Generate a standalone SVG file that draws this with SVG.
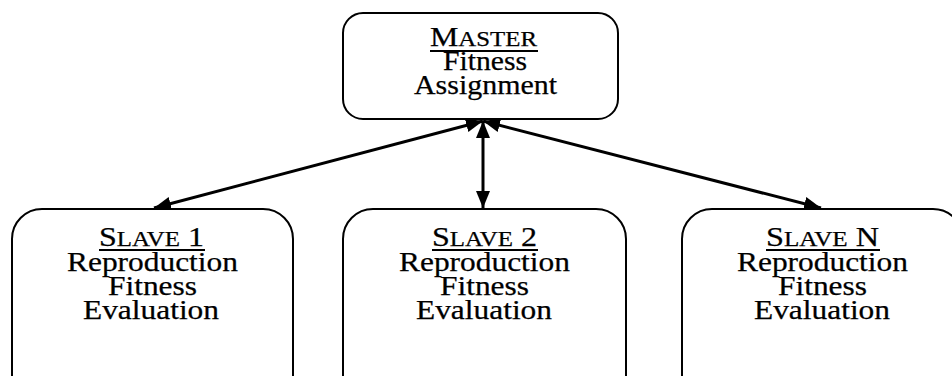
<svg xmlns="http://www.w3.org/2000/svg" width="952" height="376" viewBox="0 0 952 376">
<style>
.box{fill:#fff;stroke:#000;stroke-width:2}
.t{font-family:"Liberation Serif","Times New Roman",serif;font-size:27px;fill:#000;stroke:#000;stroke-width:0.25}
.sc{font-size:21px}
.ul{stroke:#000;stroke-width:2}
.conn{stroke:#000;stroke-width:3;fill:none}
</style>
<defs>
<marker id="ah" markerUnits="userSpaceOnUse" markerWidth="18" markerHeight="16" refX="17" refY="7" orient="auto-start-reverse" viewBox="0 0 18 14">
<path d="M0,0 L17,7 L0,14 Z" fill="#000"/>
</marker>
</defs>
<g id="connectors">
<line class="conn" x1="483" y1="121" x2="154" y2="208" marker-start="url(#ah)" marker-end="url(#ah)"/>
<line class="conn" x1="483" y1="121" x2="483" y2="208" marker-start="url(#ah)" marker-end="url(#ah)"/>
<line class="conn" x1="483" y1="121" x2="821" y2="208" marker-start="url(#ah)" marker-end="url(#ah)"/>
</g>
<g id="master">
<rect class="box" x="343" y="13" width="275" height="106" rx="20"/>
<text class="t" x="430" y="46" textLength="107" lengthAdjust="spacingAndGlyphs">M<tspan class="sc">ASTER</tspan></text>
<line class="ul" x1="430" y1="51" x2="538" y2="51"/>
<text class="t" x="443" y="70" textLength="84" lengthAdjust="spacingAndGlyphs">Fitness</text>
<text class="t" x="414" y="94" textLength="143" lengthAdjust="spacingAndGlyphs">Assignment</text>
</g>
<g id="slave1">
<rect class="box" x="12" y="209" width="281" height="200" rx="30"/>
<text class="t" x="99" y="246" textLength="105" lengthAdjust="spacingAndGlyphs">S<tspan class="sc">LAVE</tspan> 1</text>
<line class="ul" x1="99" y1="250" x2="205" y2="250"/>
<text class="t" x="67" y="271" textLength="171" lengthAdjust="spacingAndGlyphs">Reproduction</text>
<text class="t" x="108" y="295" textLength="89" lengthAdjust="spacingAndGlyphs">Fitness</text>
<text class="t" x="83" y="319" textLength="136" lengthAdjust="spacingAndGlyphs">Evaluation</text>
</g>
<g id="slave2">
<rect class="box" x="343" y="209" width="283" height="200" rx="30"/>
<text class="t" x="432" y="246" textLength="105" lengthAdjust="spacingAndGlyphs">S<tspan class="sc">LAVE</tspan> 2</text>
<line class="ul" x1="432" y1="250" x2="538" y2="250"/>
<text class="t" x="399" y="271" textLength="171" lengthAdjust="spacingAndGlyphs">Reproduction</text>
<text class="t" x="440" y="295" textLength="89" lengthAdjust="spacingAndGlyphs">Fitness</text>
<text class="t" x="416" y="319" textLength="136" lengthAdjust="spacingAndGlyphs">Evaluation</text>
</g>
<g id="slaveN">
<rect class="box" x="682" y="209" width="281" height="200" rx="30"/>
<text class="t" x="766" y="246" textLength="113" lengthAdjust="spacingAndGlyphs">S<tspan class="sc">LAVE</tspan> N</text>
<line class="ul" x1="766" y1="250" x2="880" y2="250"/>
<text class="t" x="737" y="271" textLength="171" lengthAdjust="spacingAndGlyphs">Reproduction</text>
<text class="t" x="778" y="295" textLength="89" lengthAdjust="spacingAndGlyphs">Fitness</text>
<text class="t" x="754" y="319" textLength="136" lengthAdjust="spacingAndGlyphs">Evaluation</text>
</g>
</svg>
